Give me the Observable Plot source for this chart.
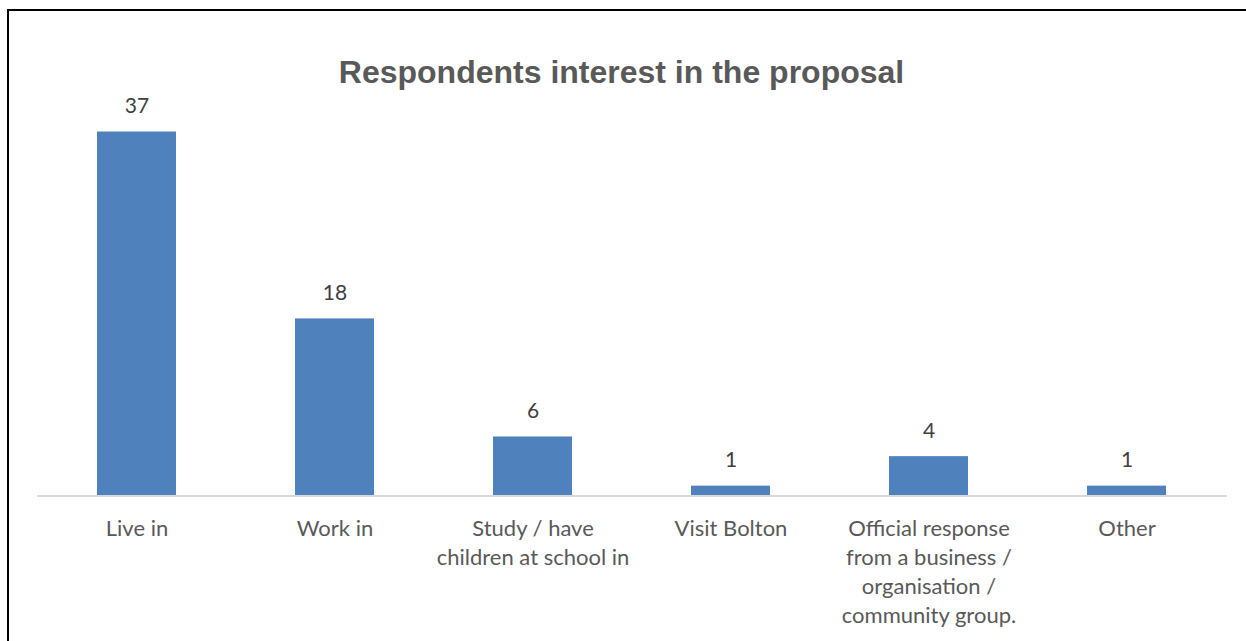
<!DOCTYPE html>
<html>
<head>
<meta charset="utf-8">
<script src="https://cdn.jsdelivr.net/npm/d3@7"></script>
<script src="https://cdn.jsdelivr.net/npm/@observablehq/plot@0.6"></script>
<style>
  html, body { margin: 0; padding: 0; background: #fff; }
  #wrap { position: relative; width: 1246px; height: 641px; overflow: hidden; background: #fff; }
  #frame { position: absolute; left: 7px; top: 9px; width: 1400px; height: 800px;
           border-top: 2px solid #000; border-left: 2px solid #000; box-sizing: border-box; }
  #title { position: absolute; left: 0; width: 1243px; top: 52px; text-align: center;
           font-family: "Liberation Sans", Arial, sans-serif; font-weight: bold; font-size: 32px;
           color: #595959; line-height: 40px; }
  #chart { position: absolute; left: 0; top: 90px; }
</style>
</head>
<body>
<div id="wrap">
  <div id="frame"></div>
  <div id="title">Respondents interest in the proposal</div>
  <div id="chart"></div>
</div>
<script>
const categories = [
  "Live in",
  "Work in",
  "Study / have children at school in",
  "Visit Bolton",
  "Official response from a business / organisation / community group.",
  "Other"
];
const tickLabels = [
  "Live in",
  "Work in",
  "Study / have\nchildren at school in",
  "Visit Bolton",
  "Official response\nfrom a business /\norganisation /\ncommunity group.",
  "Other"
];
const counts = [37, 18, 6, 1, 4, 1];

const data = categories.map((c, i) => ({category: c, label: tickLabels[i], value: counts[i]}));

const plot = Plot.plot({
  width: 1246,
  height: 551,
  marginLeft: 37,
  marginRight: 19,
  marginTop: 12,
  marginBottom: 145.5,
  x: {domain: categories, paddingInner: 0.6, paddingOuter: 0.3, axis: null},
  y: {domain: [0, 40], axis: null},
  style: {background: "transparent"},
  marks: [
    Plot.barY(data, {x: "category", y: "value", fill: "#4f81bd"}),
    Plot.ruleY([0], {stroke: "#d9d9d9", strokeWidth: 2}),
    Plot.text(data, {x: "category", y: "value", text: d => String(d.value), lineAnchor: "bottom", dy: -19,
      fontFamily: "Lato, 'Open Sans', sans-serif", fontSize: 21, fill: "#404040"}),
    Plot.text(data, {x: "category", y: () => 0, text: "label", lineAnchor: "top", dy: 19, lineHeight: 1.32,
      fontFamily: "Lato, 'Open Sans', sans-serif", fontSize: 22, fill: "#595959"})
  ]
});
document.getElementById("chart").appendChild(plot);
</script>
</body>
</html>
